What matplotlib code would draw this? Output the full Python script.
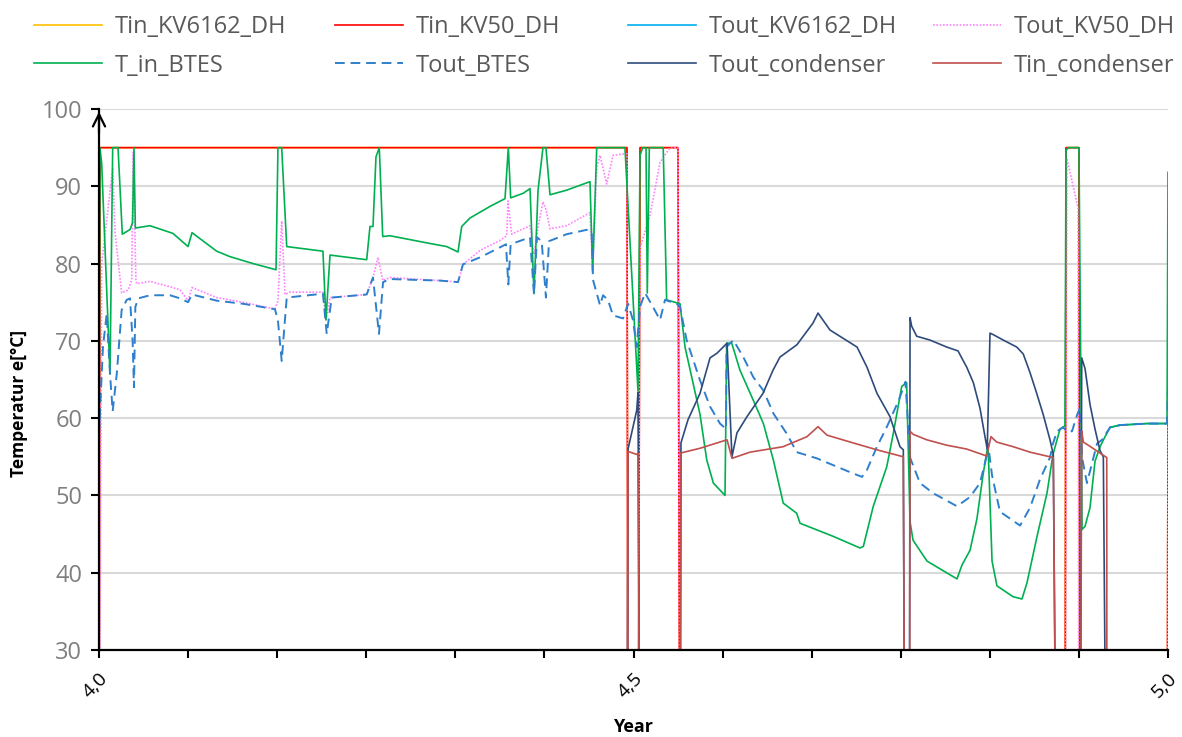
import numpy as np
import matplotlib
matplotlib.use("Agg")
import matplotlib.pyplot as plt

plt.rcParams['font.family'] = ['Open Sans', 'DejaVu Sans']

# values below 30 mean the circuit is off (drawn below the axis)
# Tin_KV6162_DH and Tin_KV50_DH
t_tin_dh = [4.0, 4.0009, 4.4939, 4.4949, 4.5042, 4.5061, 4.5416, 4.5435,
            4.9036, 4.9046, 4.9167, 4.9177, 4.9991, 5.0]
tin_kv6162 = [0, 95, 95, 0, 0, 95, 95, 0, 0, 95, 95, 0, 0, 60]
tin_kv50 = [0, 95, 95, 0, 0, 95, 95, 0, 0, 95, 95, 0, 0, 60]

# Tout_KV6162_DH (mostly hidden under the other lines)
t_tout_kv6162 = [4.0, 4.0009, np.nan, 4.9458, 4.9551, 4.9804, 4.9991]
tout_kv6162 = [58.3, 60.0, np.nan, 58.8, 59.1, 59.3, 59.3]

# Tout_KV50_DH
t_tout_kv50 = [4.0, 4.0025, 4.0128, 4.0150, 4.0212, 4.0274, 4.0306, 4.0320, 4.0345,
               4.0353, 4.0477, 4.0664, 4.0758, 4.0833, 4.0870, 4.1101, 4.1347, 4.1646,
               4.1674, 4.1709, 4.1740, 4.1787, 4.2095, 4.2123, 4.2161, 4.2504, 4.2563,
               4.2610, 4.2654, 4.2722, 4.2937, 4.3190, 4.3358, 4.3405, 4.3564, 4.3751,
               4.3814, 4.3826, 4.3860, 4.4032, 4.4069, 4.4107, 4.4153, 4.4181, 4.4219,
               4.4375, 4.4593, 4.4618, 4.4656, 4.4687, 4.4749, 4.4808, 4.4920, 4.4939,
               4.4949, 4.5042, 4.5061, 4.5154, 4.5248, 4.5341, 4.5416, 4.5435, 4.9036,
               4.9055, 4.9158, 4.9167, 4.9991, 5.0]
tout_kv50 = [0, 80.0, 92.3, 84.0, 76.2, 76.6, 77.9, 94.4, 77.9,
             77.4, 77.7, 77.0, 76.6, 75.2, 76.9, 75.6, 75.0, 74.1,
             75.2, 85.5, 76.0, 76.3, 76.3, 72.6, 75.6, 76.0, 78.2,
             80.8, 77.8, 78.2, 78.0, 77.8, 77.6, 79.9, 81.7, 83.0,
             83.6, 88.1, 83.8, 84.9, 81.2, 84.7, 88.0, 87.0, 84.5,
             84.9, 86.6, 79.1, 92.4, 94.0, 90.3, 94.0, 94.2, 94.2,
             0, 0, 82.0, 86.2, 93.1, 95.0, 95.0, 0, 0,
             93.6, 87.2, 0, 0, 60]

# T_in_BTES
t_in_btes_t = [4.0, 4.0009, 4.0025, 4.0103, 4.0128, 4.0178, 4.0218, 4.0290, 4.0314,
               4.0327, 4.0340, 4.0477, 4.0692, 4.0833, 4.0870, 4.1101, 4.1225, 4.1441,
               4.1656, 4.1674, 4.1709, 4.1756, 4.2095, 4.2123, 4.2161, 4.2504, 4.2535,
               4.2563, 4.2591, 4.2622, 4.2654, 4.2722, 4.2909, 4.3096, 4.3253, 4.3358,
               4.3393, 4.3471, 4.3658, 4.3798, 4.3829, 4.3851, 4.3969, 4.4032, 4.4069,
               4.4107, 4.4153, 4.4181, 4.4219, 4.4375, 4.4593, 4.4618, 4.4656, 4.4920,
               4.5042, 4.5061, 4.5086, 4.5117, 4.5129, 4.5148, 4.5278, 4.5310, 4.5435,
               4.5482, 4.5622, 4.5685, 4.5747, 4.5856, 4.5872, 4.5919, 4.5996, 4.6121,
               4.6215, 4.6308, 4.6401, 4.6526, 4.6558, 4.6869, 4.7119, 4.7150, 4.7243,
               4.7369, 4.7430, 4.7509, 4.7555, 4.7587, 4.7615, 4.7746, 4.8026, 4.8073,
               4.8148, 4.8213, 4.8269, 4.8307, 4.8316, 4.8354, 4.8400, 4.8550, 4.8634,
               4.8681, 4.8775, 4.8868, 4.8924, 4.8952, 4.8990, 4.9036, 4.9046, 4.9065,
               4.9167, 4.9196, 4.9224, 4.9270, 4.9317, 4.9364, 4.9411, 4.9458, 4.9551,
               4.9804, 4.9991, 5.0]
t_in_btes = [58.3, 95.0, 93.0, 65.7, 95.0, 95.0, 83.8, 84.4, 85.3,
             95.0, 84.6, 84.9, 83.9, 82.2, 84.0, 81.6, 80.9, 80.0,
             79.2, 95.0, 95.0, 82.2, 81.6, 72.7, 81.1, 80.5, 84.8,
             84.8, 93.8, 95.0, 83.5, 83.6, 83.1, 82.6, 82.2, 81.5,
             84.8, 85.9, 87.4, 88.4, 95.0, 88.5, 89.1, 89.7, 76.1,
             89.5, 95.0, 95.0, 88.9, 89.5, 90.6, 79.0, 95.0, 95.0,
             63.5, 94.0, 95.0, 95.0, 76.2, 95.0, 95.0, 75.3, 74.8,
             69.2, 60.5, 54.6, 51.6, 50.0, 69.7, 69.7, 66.2, 62.3,
             59.3, 54.6, 49.0, 47.7, 46.4, 44.7, 43.2, 43.4, 48.6,
             53.7, 58.0, 64.1, 64.6, 46.6, 44.2, 41.5, 39.2, 41.0,
             42.9, 47.0, 52.6, 55.8, 56.7, 41.5, 38.3, 36.9, 36.6,
             38.7, 44.7, 50.3, 55.3, 56.7, 58.6, 59.0, 94.6, 95.0,
             95.0, 45.6, 46.0, 48.4, 54.4, 56.3, 57.6, 58.8, 59.1,
             59.3, 59.3, 91.8]

# Tout_BTES
t_out_btes_t = [4.0, 4.0037, 4.0072, 4.0103, 4.0128, 4.0166, 4.0212, 4.0259, 4.0290,
                4.0314, 4.0327, 4.0340, 4.0368, 4.0477, 4.0664, 4.0758, 4.0833, 4.0870,
                4.1101, 4.1347, 4.1646, 4.1674, 4.1709, 4.1756, 4.2095, 4.2130, 4.2177,
                4.2504, 4.2563, 4.2619, 4.2657, 4.2722, 4.2937, 4.3190, 4.3358, 4.3405,
                4.3564, 4.3751, 4.3807, 4.3829, 4.3851, 4.4032, 4.4069, 4.4097, 4.4141,
                4.4181, 4.4210, 4.4375, 4.4574, 4.4609, 4.4621, 4.4687, 4.4715, 4.4761,
                4.4808, 4.4902, 4.4949, 4.4995, 4.5030, 4.5061, 4.5108, 4.5182, 4.5248,
                4.5295, 4.5404, 4.5435, 4.5497, 4.5622, 4.5716, 4.5809, 4.5866, 4.5870,
                4.5934, 4.6027, 4.6121, 4.6214, 4.6309, 4.6433, 4.6527, 4.6715, 4.6871,
                4.7027, 4.7137, 4.7184, 4.7277, 4.7371, 4.7481, 4.7544, 4.7587, 4.7680,
                4.7802, 4.8026, 4.8148, 4.8241, 4.8307, 4.8316, 4.8354, 4.8428, 4.8616,
                4.8709, 4.8803, 4.8896, 4.8924, 4.8962, 4.9018, 4.9055, 4.9102, 4.9149,
                4.9177, 4.9196, 4.9242, 4.9336, 4.9383, 4.9458, 4.9551, 4.9804, 4.9991,
                5.0]
t_out_btes = [58.0, 69.2, 73.5, 65.7, 60.9, 65.7, 74.0, 75.3, 75.5,
              70.1, 64.0, 74.4, 75.5, 75.9, 75.9, 75.5, 75.0, 76.0,
              75.2, 74.8, 74.1, 72.6, 67.4, 75.6, 76.1, 70.9, 75.6,
              76.0, 78.2, 70.9, 77.6, 78.0, 77.9, 77.8, 77.6, 79.9,
              80.8, 82.1, 82.5, 77.3, 82.5, 83.4, 76.0, 83.4, 82.9,
              75.6, 82.9, 83.8, 84.4, 84.0, 77.9, 74.6, 75.9, 75.3,
              73.3, 72.9, 74.8, 72.7, 69.2, 74.4, 76.2, 74.4, 72.7,
              75.3, 74.8, 74.4, 70.1, 64.9, 61.5, 59.3, 58.6, 69.2,
              70.1, 67.9, 65.3, 63.6, 60.6, 58.0, 55.6, 54.8, 53.9,
              53.0, 52.4, 53.3, 56.3, 58.9, 62.3, 64.7, 54.9, 51.6,
              50.3, 48.6, 49.8, 51.6, 55.3, 56.7, 52.6, 47.9, 46.1,
              48.4, 52.1, 54.9, 56.7, 58.3, 58.8, 58.3, 58.3, 60.4,
              61.3, 54.9, 51.6, 56.7, 57.2, 58.8, 59.1, 59.3, 59.3,
              64.0]

# Tout_condenser
t_out_cond_t = [4.0, 4.4939, 4.4949, 4.5030, 4.5042, 4.5061, 4.5435, 4.5444, 4.5510,
                4.5622, 4.5716, 4.5781, 4.5875, 4.5921, 4.5968, 4.6062, 4.6211, 4.6305,
                4.6370, 4.6529, 4.6679, 4.6726, 4.6838, 4.7091, 4.7184, 4.7278, 4.7399,
                4.7493, 4.7524, 4.7540, 4.7580, 4.7587, 4.7602, 4.7649, 4.7774, 4.7930,
                4.8036, 4.8070, 4.8117, 4.8179, 4.8241, 4.8288, 4.8309, 4.8335, 4.8366,
                4.8459, 4.8585, 4.8646, 4.8709, 4.8772, 4.8834, 4.8896, 4.8927, 4.8959,
                4.9177, 4.9193, 4.9224, 4.9270, 4.9317, 4.9364, 4.9395, 4.9427, 5.0]
t_out_cond = [0, 0, 56.0, 61.0, 63.3, 0, 0, 56.8, 59.8,
              63.2, 67.8, 68.4, 69.7, 55.0, 58.1, 60.2, 63.2, 66.2,
              67.9, 69.5, 72.3, 73.6, 71.4, 69.2, 66.6, 63.2, 60.2,
              56.3, 55.9, 0, 0, 73.0, 71.9, 70.6, 70.1, 69.2,
              68.7, 67.8, 66.6, 64.6, 61.3, 57.6, 56.0, 71.0, 70.8,
              70.1, 69.2, 68.3, 65.9, 63.2, 60.4, 57.2, 55.3, 0,
              0, 67.8, 66.4, 61.8, 58.6, 55.8, 55.0, 0, 0]

# Tin_condenser
t_in_cond_t = [4.0, 4.4939, 4.4949, 4.5030, 4.5042, 4.5061, 4.5435, 4.5444, 4.5622,
               4.5875, 4.5921, 4.6090, 4.6398, 4.6623, 4.6726, 4.6810, 4.7053, 4.7278,
               4.7524, 4.7540, 4.7580, 4.7587, 4.7617, 4.7743, 4.7930, 4.8117, 4.8304,
               4.8344, 4.8398, 4.8553, 4.8709, 4.8927, 4.8959, 4.9177, 4.9193, 4.9208,
               4.9254, 4.9427, 4.9429, 5.0]
t_in_cond = [0, 0, 55.7, 55.3, 55.5, 0, 0, 55.5, 56.1,
             57.2, 54.8, 55.6, 56.3, 57.6, 58.9, 57.8, 56.8, 55.9,
             55.0, 0, 0, 58.3, 57.9, 57.2, 56.5, 56.0, 55.1,
             57.6, 56.9, 56.3, 55.6, 54.9, 0, 0, 58.3, 56.9,
             56.5, 54.9, 0, 0]

x_ticks = [4 + m / 12 for m in range(13)]
x_tick_labels = ['4,0', '', '', '', '', '', '4,5', '', '', '', '', '', '5,0']
y_ticks = [30, 40, 50, 60, 70, 80, 90, 100]

W, H = 1182, 737
fig = plt.figure(figsize=(W / 100, H / 100), dpi=100)
ax = fig.add_axes([99 / W, 1 - 650 / H, (1168 - 99) / W, (650 - 109) / H])

lw = 1.2
l1, = ax.plot(t_tin_dh, tin_kv6162, color='#FFC000', lw=lw, label='Tin_KV6162_DH')
l2, = ax.plot(t_tin_dh, tin_kv50, color='#FF0000', lw=lw, label='Tin_KV50_DH')
l3, = ax.plot(t_tout_kv6162, tout_kv6162, color='#00B0F0', lw=lw, label='Tout_KV6162_DH')
l4, = ax.plot(t_tout_kv50, tout_kv50, color='#FF80FF', lw=lw, ls=(0, (1, 1)), label='Tout_KV50_DH')
l5, = ax.plot(t_in_btes_t, t_in_btes, color='#00B050', lw=lw, label='T_in_BTES')
l6, = ax.plot(t_out_btes_t, t_out_btes, color='#2F80CC', lw=1.4, ls=(0, (5, 3)), label='Tout_BTES')
l7, = ax.plot(t_out_cond_t, t_out_cond, color='#2F4B7C', lw=lw, label='Tout_condenser')
l8, = ax.plot(t_in_cond_t, t_in_cond, color='#C0504D', lw=lw, label='Tin_condenser')

ax.set_xlim(4.0, 5.0)
ax.set_ylim(30, 100)
ax.set_yticks(y_ticks)
ax.set_xticks(x_ticks)
ax.set_xticklabels(x_tick_labels, rotation=45, ha='right', rotation_mode='anchor')
ax.yaxis.grid(True, color='#D9D9D9', lw=1.5)
ax.set_axisbelow(True)
for s in ['top', 'right']:
    ax.spines[s].set_visible(False)
for s in ['left', 'bottom']:
    ax.spines[s].set_linewidth(1.6)
ax.tick_params(axis='y', direction='out', length=6, width=1.5, labelsize=17,
               labelcolor='#7F7F7F', pad=6)
ax.tick_params(axis='x', direction='out', length=6, width=1.5, labelsize=14, pad=8)
ax.annotate('', xy=(0, 1.0), xycoords='axes fraction', xytext=(0, 0.95),
            arrowprops=dict(arrowstyle='->', lw=1.6, mutation_scale=22, color='black'),
            annotation_clip=False)

ax.set_ylabel('Temperatur e[°C]', fontsize=12.5, fontweight='bold')
ax.yaxis.set_label_coords(-0.066, 0.455)
ax.set_xlabel('Year', fontsize=13, fontweight='bold', labelpad=12)

cols = [([l1, l5], 34), ([l2, l6], 335), ([l3, l7], 628), ([l4, l8], 933)]
for handles, px in cols:
    fig.legend(handles=handles, loc='upper left', bbox_to_anchor=(px / W, 1 - 15 / H),
               frameon=False, fontsize=17, handlelength=2.9, handletextpad=0.5,
               labelspacing=0.62, borderpad=0, borderaxespad=0, labelcolor='#595959')

fig.savefig('out.png', dpi=100)
